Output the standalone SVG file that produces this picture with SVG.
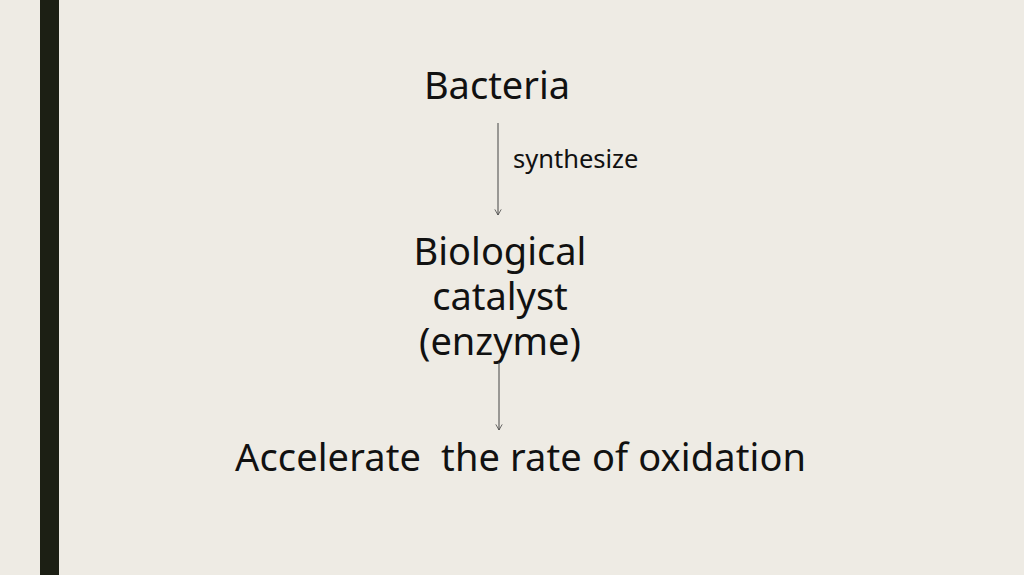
<svg xmlns="http://www.w3.org/2000/svg" width="1024" height="575" viewBox="0 0 1024 575">
<style>
.t{font-family:"Noto Sans","Open Sans",sans-serif;fill:#111;font-size:38px}
.s{font-family:"Noto Sans","Open Sans",sans-serif;fill:#111;font-size:25.5px}
.c{stroke:#444;stroke-width:1;fill:none}
</style>
<defs>
<marker id="ah" viewBox="0 0 10 10" refX="9" refY="5" markerWidth="8" markerHeight="8" markerUnits="userSpaceOnUse" orient="auto">
<path d="M2 1 L9 5 L2 9" fill="none" stroke="#444" stroke-width="1"/>
</marker>
</defs>
<rect width="1024" height="575" fill="#EEEBE4"/>
<rect x="40" y="0" width="19" height="575" fill="#1C1F14"/>
<g id="bacteria"><text class="t" x="497" y="99" text-anchor="middle">Bacteria</text></g>
<g id="catalyst"><text class="t" text-anchor="middle"><tspan x="500" y="265">Biological</tspan><tspan x="500" y="310">catalyst</tspan><tspan x="500" y="355">(enzyme)</tspan></text></g>
<g id="oxidation"><text class="t" x="520.5" y="471" text-anchor="middle" textLength="571" xml:space="preserve">Accelerate  the rate of oxidation</text></g>
<g id="connectors">
<line class="c" x1="498" y1="123" x2="498" y2="215" marker-end="url(#ah)"/>
<text class="s" x="513" y="168">synthesize</text>
<line class="c" x1="499" y1="362" x2="499" y2="430" marker-end="url(#ah)"/>
</g>
</svg>
